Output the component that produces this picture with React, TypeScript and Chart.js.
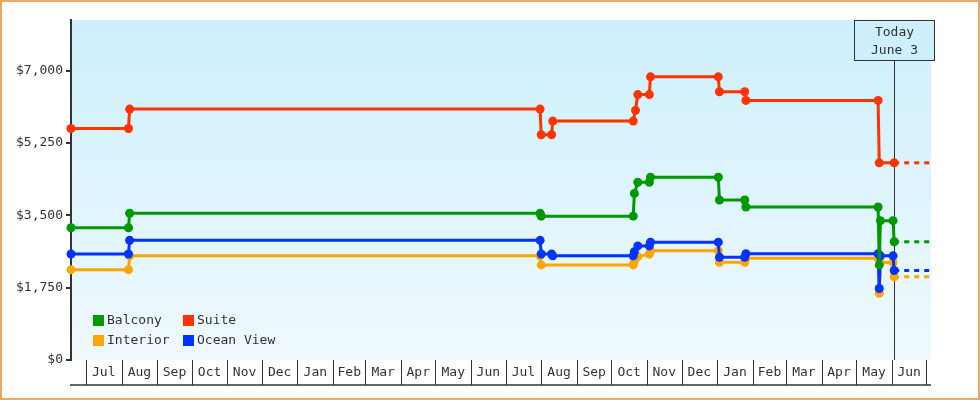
import { useEffect, useRef } from 'react';
import { Chart, registerables } from 'chart.js';

Chart.register(...registerables);

const FONT = '"DejaVu Sans Mono", monospace';
const TEXT = '#333333';

const seriesNames = ['Balcony', 'Suite', 'Interior', 'Ocean View'];
const seriesColors = ['#009900', '#ff3300', '#ffa500', '#0033ff'];

const balconyData: [string, number][] = [
  ['2022-06-18', 3200], ['2022-08-07', 3200], ['2022-08-08', 3550],
  ['2023-07-31', 3550], ['2023-08-01', 3480], ['2023-10-20', 3480],
  ['2023-10-21', 4030], ['2023-10-24', 4300], ['2023-11-03', 4300],
  ['2023-11-04', 4420], ['2024-01-02', 4420], ['2024-01-03', 3870],
  ['2024-01-25', 3870], ['2024-01-26', 3700], ['2024-05-20', 3700],
  ['2024-05-21', 2300], ['2024-05-22', 3370], ['2024-06-02', 3370],
  ['2024-06-03', 2860],
];

const suiteData: [string, number][] = [
  ['2022-06-18', 5600], ['2022-08-07', 5600], ['2022-08-08', 6070],
  ['2023-07-31', 6070], ['2023-08-01', 5450], ['2023-08-10', 5450],
  ['2023-08-11', 5780], ['2023-10-20', 5780], ['2023-10-22', 6040],
  ['2023-10-24', 6420], ['2023-11-03', 6420], ['2023-11-04', 6850],
  ['2024-01-02', 6850], ['2024-01-03', 6490], ['2024-01-25', 6490],
  ['2024-01-26', 6280], ['2024-05-20', 6280], ['2024-05-21', 4770],
  ['2024-06-03', 4770],
];

const interiorData: [string, number][] = [
  ['2022-06-18', 2185], ['2022-08-07', 2185], ['2022-08-08', 2520],
  ['2023-07-31', 2520], ['2023-08-01', 2300], ['2023-10-20', 2300],
  ['2023-10-21', 2400], ['2023-10-24', 2500], ['2023-11-03', 2560],
  ['2023-11-04', 2645], ['2024-01-02', 2645], ['2024-01-03', 2365],
  ['2024-01-25', 2365], ['2024-01-26', 2460], ['2024-05-20', 2460],
  ['2024-05-21', 1615], ['2024-05-22', 2360], ['2024-06-02', 2360],
  ['2024-06-03', 2015],
];

const oceanViewData: [string, number][] = [
  ['2022-06-18', 2565], ['2022-08-07', 2565], ['2022-08-08', 2895],
  ['2023-07-31', 2895], ['2023-08-01', 2565], ['2023-08-10', 2565],
  ['2023-08-11', 2520], ['2023-10-20', 2520], ['2023-10-21', 2620],
  ['2023-10-24', 2760], ['2023-11-03', 2760], ['2023-11-04', 2850],
  ['2024-01-02', 2850], ['2024-01-03', 2485], ['2024-01-25', 2485],
  ['2024-01-26', 2570], ['2024-05-20', 2570], ['2024-05-21', 1730],
  ['2024-05-22', 2520], ['2024-06-02', 2520], ['2024-06-03', 2165],
];

const seriesData = [balconyData, suiteData, interiorData, oceanViewData];
// drawing order: first is on top
const drawOrder = [0, 1, 3, 2];

const yTicks = [0, 1750, 3500, 5250, 7000];
const yMax = 8225;
const monthNames = ['Jan', 'Feb', 'Mar', 'Apr', 'May', 'Jun', 'Jul', 'Aug', 'Sep', 'Oct', 'Nov', 'Dec'];
const rangeStart = '2022-06-18';
const rangeEnd = '2024-07-05';
const todayDate = '2024-06-03';
const todayLines = ['Today', 'June 3'];

const day = (s: string) =>
  Date.UTC(+s.slice(0, 4), +s.slice(5, 7) - 1, +s.slice(8, 10)) / 86400000;

const decorPlugin = {
  id: 'decor',
  beforeDraw(chart: any) {
    const { ctx, chartArea: a } = chart;
    ctx.save();
    ctx.fillStyle = '#ffffff';
    ctx.fillRect(0, 0, chart.width, chart.height);
    const g = ctx.createLinearGradient(0, a.top, 0, a.bottom);
    g.addColorStop(0, '#cdf0fc');
    g.addColorStop(1, '#eff9fe');
    ctx.fillStyle = g;
    ctx.fillRect(a.left, a.top, a.right - a.left, a.bottom - a.top);
    ctx.strokeStyle = '#eaa964';
    ctx.lineWidth = 2;
    ctx.strokeRect(1, 1, chart.width - 2, chart.height - 2);
    ctx.restore();
  },
  beforeDatasetsDraw(chart: any) {
    const { ctx, chartArea: a } = chart;
    const xs = chart.scales.x;
    const tx = Math.round(xs.getPixelForValue(day(todayDate)));
    const bw = 80, bh = 40;
    const bx = tx - bw / 2 + 0.5;
    const by = a.top + 0.5;
    ctx.save();
    ctx.fillStyle = '#cdf0fc';
    ctx.fillRect(bx, by, bw, bh);
    ctx.strokeStyle = TEXT;
    ctx.lineWidth = 1;
    ctx.strokeRect(bx, by, bw, bh);
    ctx.beginPath();
    ctx.moveTo(tx + 0.5, by + bh);
    ctx.lineTo(tx + 0.5, a.bottom);
    ctx.stroke();
    ctx.fillStyle = TEXT;
    ctx.font = `13px ${FONT}`;
    ctx.textAlign = 'center';
    ctx.textBaseline = 'middle';
    ctx.fillText(todayLines[0], tx + 0.5, by + 12);
    ctx.fillText(todayLines[1], tx + 0.5, by + 30);
    ctx.restore();
  },
  afterDraw(chart: any) {
    const { ctx, chartArea: a } = chart;
    const xs = chart.scales.x;
    const xMin = xs.min, xMax = xs.max;
    const top = a.bottom, bot = a.bottom + 25;
    ctx.save();
    ctx.strokeStyle = TEXT;
    ctx.fillStyle = TEXT;
    ctx.font = `13px ${FONT}`;
    ctx.textAlign = 'center';
    ctx.textBaseline = 'middle';
    const d0 = new Date(xMin * 86400000);
    let y = d0.getUTCFullYear(), m = d0.getUTCMonth();
    while (true) {
      const start = Date.UTC(y, m, 1) / 86400000;
      if (start > xMax) break;
      const end = Date.UTC(y, m + 1, 1) / 86400000;
      if (start >= xMin) {
        const px = Math.round(xs.getPixelForValue(start)) + 0.5;
        ctx.lineWidth = 1;
        ctx.beginPath();
        ctx.moveTo(px, top);
        ctx.lineTo(px, bot);
        ctx.stroke();
      }
      const p1 = xs.getPixelForValue(Math.max(start, xMin));
      const p2 = xs.getPixelForValue(Math.min(end, xMax));
      const label = monthNames[m];
      if (p2 - p1 >= ctx.measureText(label).width + 6) {
        ctx.fillText(label, (p1 + p2) / 2, (top + bot) / 2 + 0.5);
      }
      m++;
      if (m === 12) { m = 0; y++; }
    }
    ctx.lineWidth = 1.5;
    ctx.beginPath();
    ctx.moveTo(a.left - 1, bot);
    ctx.lineTo(a.right, bot);
    ctx.stroke();

    // legend
    const cols = [a.left + 22, a.left + 112];
    const rows = [a.bottom - 45, a.bottom - 25];
    ctx.textAlign = 'left';
    seriesNames.forEach((name, i) => {
      const lx = cols[i % 2];
      const ly = rows[Math.floor(i / 2)];
      ctx.fillStyle = seriesColors[i];
      ctx.fillRect(lx, ly, 11, 11);
      ctx.fillStyle = TEXT;
      ctx.fillText(name, lx + 14, ly + 6);
    });
    ctx.restore();
  },
};

export default function App() {
  const ref = useRef<HTMLCanvasElement | null>(null);
  useEffect(() => {
    if (!ref.current) return;
    const datasets: any[] = [];
    drawOrder.forEach((i) => {
      datasets.push({
        label: seriesNames[i],
        data: seriesData[i].map(([d, v]) => ({ x: day(d), y: v })),
        borderColor: seriesColors[i],
        backgroundColor: seriesColors[i],
        borderWidth: 3,
        pointRadius: 4.5,
        pointBorderWidth: 0,
        pointHoverRadius: 4.5,
        pointStyle: 'circle',
        tension: 0,
        fill: false,
        clip: false,
      });
    });
    drawOrder.forEach((i) => {
      const last = seriesData[i][seriesData[i].length - 1];
      datasets.push({
        label: seriesNames[i] + ' projection',
        data: [{ x: day(last[0]), y: last[1] }, { x: day(rangeEnd), y: last[1] }],
        borderColor: seriesColors[i],
        borderWidth: 3,
        borderDash: [5, 5],
        pointRadius: 0,
        tension: 0,
        fill: false,
        clip: false,
      });
    });
    const chart = new Chart(ref.current, {
      type: 'line',
      data: { datasets },
      options: {
        animation: false,
        responsive: false,
        devicePixelRatio: 1,
        events: [],
        layout: { padding: { top: 20, bottom: 40, left: 0, right: 49 } },
        plugins: { legend: { display: false }, tooltip: { enabled: false } },
        scales: {
          x: {
            type: 'linear',
            display: false,
            min: day(rangeStart),
            max: day(rangeEnd),
          },
          y: {
            type: 'linear',
            min: 0,
            max: yMax,
            afterBuildTicks: (s: any) => {
              s.ticks = yTicks.map((v) => ({ value: v }));
            },
            afterFit: (s: any) => {
              s.width = 71;
            },
            grid: {
              display: true,
              drawOnChartArea: false,
              drawTicks: true,
              tickLength: 5,
              color: TEXT,
              lineWidth: 2,
            },
            border: { display: true, color: TEXT, width: 2 },
            ticks: {
              padding: 3,
              color: TEXT,
              font: { family: FONT, size: 13 },
              callback: (v: any) => '$' + Number(v).toLocaleString('en-US'),
            },
          },
        },
      },
      plugins: [decorPlugin],
    });
    return () => chart.destroy();
  }, []);
  return (
    <div style={{ position: 'absolute', left: 0, top: 0, width: 980, height: 400 }}>
      <canvas ref={ref} width={980} height={400} />
    </div>
  );
}
